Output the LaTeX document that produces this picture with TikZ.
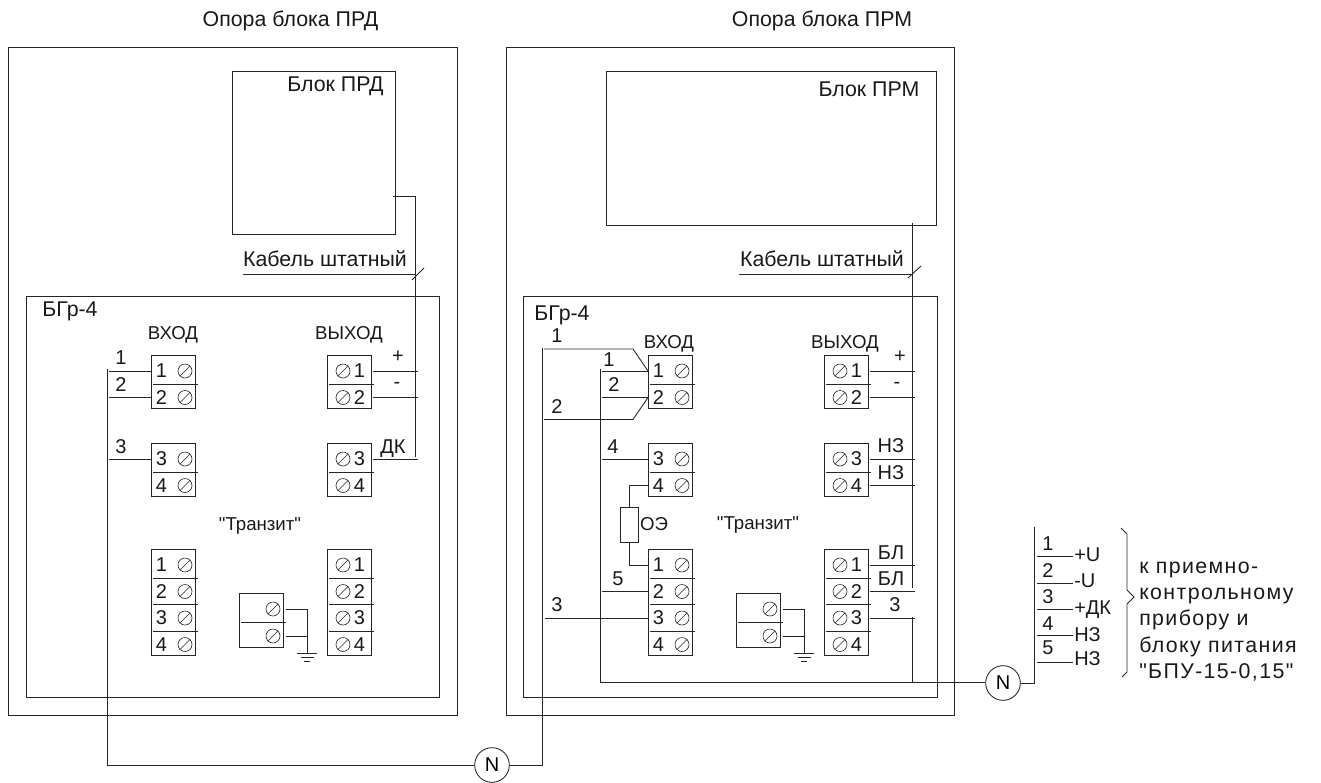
\documentclass[tikz,border=0pt]{standalone}
\usepackage{fontspec}
\setmainfont{Liberation Sans}[Ligatures=TeXOff]
\newcommand{\strip}[5]{% name, x, ytop, side (L/R), list of numbers
  \def\stripname{#1}\def\stripside{#4}
  \foreach \num [count=\i] in {#5}{\xdef\striprows{\i}}
  \pgfmathsetmacro{\striph}{26.5*\striprows}
  \node[blockbox,minimum width=44*0.75pt,minimum height=\striph*0.75pt,anchor=north west] (#1) at (#2,#3) {};
  \foreach \num [count=\i] in {#5}{
    \pgfmathsetmacro{\ry}{#3+16+26.5*(\i-1)}
    \pgfmathsetmacro{\dy}{\ry+13}
    \coordinate (#1-\i-w) at (#2,\ry);
    \coordinate (#1-\i-e) at (#2+46,\ry);
    \ifnum\i<\striprows\relax
      \draw[wire] (#2+2,\dy) -- (#2+47,\dy);
    \fi
    \if\stripside L
      \node[mid,anchor=center] (#1-\i-n) at (#2+10.5,\ry) {\num};
      \node[screwc] (#1-\i-s) at (#2+34,\ry) {};
    \else
      \node[mid,anchor=center] (#1-\i-n) at (#2+32.5,\ry) {\num};
      \node[screwc] (#1-\i-s) at (#2+16,\ry) {};
    \fi
    \draw[thin wire] (#1-\i-s.225) -- (#1-\i-s.45);
  }
}
\newcommand{\earth}[3]{% name, x, ytop
  \node[blockbox,minimum width=44*0.75pt,minimum height=54*0.75pt,anchor=north west] (#1) at (#2,#3) {};
  \draw[wire] (#2+2,#3+29) -- (#2+47,#3+29);
  \node[screwc] (#1-a) at (#2+34,#3+16) {};
  \node[screwc] (#1-b) at (#2+34,#3+43) {};
  \draw[thin wire] (#1-a.225) -- (#1-a.45);
  \draw[thin wire] (#1-b.225) -- (#1-b.45);
  \coordinate (#1-ae) at (#2+47,#3+16);
  \coordinate (#1-be) at (#2+47,#3+43);
  \coordinate (#1-ac) at (#2+68,#3+16);
  \coordinate (#1-bc) at (#2+68,#3+43);
  \coordinate (#1-g) at (#2+68,#3+60);
  \draw[wire] (#1-ae) -- (#1-ac) -- (#1-g);
  \draw[wire] (#1-be) -- (#1-bc);
  \draw[wire] ($(#1-g)+(-10,0)$) -- ($(#1-g)+(10,0)$);
  \draw[wire] ($(#1-g)+(-6.5,4)$) -- ($(#1-g)+(6.5,4)$);
  \draw[wire] ($(#1-g)+(-3,8)$) -- ($(#1-g)+(3,8)$);
}
\usetikzlibrary{calc}
\tikzset{
  x=0.75pt,y=-0.75pt,
  wire/.style={line width=0.65pt,black!85},
  thin wire/.style={line width=0.45pt,black!85},
  blockbox/.style={draw=black!85,line width=0.65pt,inner sep=0pt,fill=none},
  framebox/.style={draw=black!85,line width=0.65pt,inner sep=0pt,anchor=north west},
  screwc/.style={circle,draw=black!85,line width=0.45pt,minimum size=10.5pt,inner sep=0pt},
  lbl/.style={font=\fontsize{14}{16}\selectfont,inner sep=0pt,anchor=base,text=black!90},
  big/.style={lbl,font=\fontsize{16}{18}\selectfont},
  mid/.style={lbl,font=\fontsize{15}{17}\selectfont},
  wide/.style={lbl,anchor=base west,font=\fontsize{16}{18}\selectfont\addfontfeature{LetterSpace=6.5}},
  joint/.style={circle,draw=black!85,line width=0.65pt,minimum size=26pt,inner sep=0pt,font=\fontsize{15}{17}\selectfont},
}
\begin{document}
\begin{tikzpicture}
\useasboundingbox (0,0) rectangle (1321,782);
% frames
\node[framebox,minimum width=449*0.75pt,minimum height=668*0.75pt] (opL) at (8,47) {};
\node[framebox,minimum width=448*0.75pt,minimum height=668*0.75pt] (opR) at (506,47) {};
\node[framebox,minimum width=413*0.75pt,minimum height=401*0.75pt] (bgL) at (26,296) {};
\node[framebox,minimum width=414*0.75pt,minimum height=401*0.75pt] (bgR) at (523,296) {};
\node[framebox,minimum width=163*0.75pt,minimum height=163*0.75pt] (prd) at (232,71) {};
\node[framebox,minimum width=330*0.75pt,minimum height=154*0.75pt] (prm) at (606,71) {};
% titles
\node[big] (t1) at (290.5,26) {Опора блока ПРД};
\node[big] (t2) at (822,26) {Опора блока ПРМ};
\node[big] (t3) at (335.5,91) {Блок ПРД};
\node[big] (t4) at (869,96) {Блок ПРМ};
\node[big] (t5) at (325,266) {Кабель штатный};
\node[big] (t6) at (822,266) {Кабель штатный};
\node[big] (t7) at (70,316) {БГр-4};
\node[big] (t8) at (562,320) {БГр-4};
\node[lbl] (t9) at (173,339) {ВХОД};
\node[lbl] (t10) at (349,339) {ВЫХОД};
\node[lbl] (t11) at (669,348) {ВХОД};
\node[lbl] (t12) at (845,348) {ВЫХОД};
\node[lbl] (t13) at (260,530) {"Транзит"};
\node[lbl] (t14) at (758,529) {"Транзит"};
% strips left panel
\strip{La}{151}{355}{L}{1,2}
\strip{Lb}{151}{443}{L}{3,4}
\strip{Lc}{151}{549}{L}{1,2,3,4}
\strip{Ld}{327}{355}{R}{1,2}
\strip{Le}{327}{443}{R}{3,4}
\strip{Lf}{327}{549}{R}{1,2,3,4}
\earth{Lg}{239}{593}
% strips right panel
\strip{Ra}{648}{355}{L}{1,2}
\strip{Rb}{648}{443}{L}{3,4}
\strip{Rc}{648}{549}{L}{1,2,3,4}
\strip{Rd}{824}{355}{R}{1,2}
\strip{Re}{824}{443}{R}{3,4}
\strip{Rf}{824}{549}{R}{1,2,3,4}
\earth{Rg}{736}{593}
% junction nodes
\node[joint] (N1) at (492,765) {N};
\node[joint] (N2) at (1003,683) {N};
% left panel wiring
\coordinate (c1) at (107,369);
\coordinate (c2) at (107,765);
\coordinate (a1) at (109,371);
\coordinate (a2) at (109,397.5);
\coordinate (a3) at (109,459);
\draw[wire] (c1) -- (c2) -- (N1);
\draw[wire] (a1) -- (La-1-w);
\draw[wire] (a2) -- (La-2-w);
\draw[wire] (a3) -- (Lb-1-w);
\node[mid] (l1) at (121,364) {1};
\node[mid] (l2) at (121,391) {2};
\node[mid] (l3) at (121,453) {3};
\coordinate (d1) at (418,371);
\coordinate (d2) at (418,397.5);
\coordinate (d3) at (418,459);
\draw[wire] (Ld-1-e) -- (d1);
\draw[wire] (Ld-2-e) -- (d2);
\draw[wire] (Le-1-e) -- (d3);
\node[mid] (l4) at (398,362) {+};
\node[mid] (l5) at (397,388) {-};
\node[mid] (l6) at (393,453) {ДК};
\coordinate (w1) at (393,196);
\coordinate (w2) at (415,196);
\coordinate (w3) at (415,457);
\draw[wire] (w1) -- (w2) -- (w3);
\coordinate (k1) at (243,274);
\coordinate (k2) at (415,274);
\draw[wire] (k1) -- (k2);
\coordinate (sl1) at (412,280);
\coordinate (sl2) at (424,268);
\draw[wire] (sl1) -- (sl2);
% link between panels
\coordinate (c3) at (542,765);
\coordinate (c4) at (542,348);
\draw[wire] (N1) -- (c3) -- (c4);
% right panel wiring
\coordinate (e1) at (544,349);
\coordinate (e1b) at (633,349);
\coordinate (e2) at (544,419.5);
\coordinate (e2b) at (633,419.5);
\draw[wire] (e1) -- (e1b) -- (Ra-1-w);
\draw[wire] (e2) -- (e2b) -- (Ra-2-w);
\coordinate (f1) at (600,369);
\coordinate (f2) at (600,682);
\draw[wire] (f1) -- (f2) -- (N2.west |- f2);
\coordinate (g1) at (602,371);
\coordinate (g2) at (602,397.5);
\coordinate (g4) at (602,459);
\coordinate (g5) at (602,591.5);
\coordinate (g3) at (545,618);
\draw[wire] (g1) -- (Ra-1-w);
\draw[wire] (g2) -- (Ra-2-w);
\draw[wire] (g4) -- (Rb-1-w);
\draw[wire] (g5) -- (Rc-2-w);
\draw[wire] (g3) -- (Rc-3-w);
\node[mid] (m1) at (557,342) {1};
\node[mid] (m2) at (609,366) {1};
\node[mid] (m3) at (614,391) {2};
\node[mid] (m4) at (557,413) {2};
\node[mid] (m5) at (613,453) {4};
\node[mid] (m6) at (618,585) {5};
\node[mid] (m7) at (557,611) {3};
% OE resistor
\node[blockbox,minimum width=18*0.75pt,minimum height=35*0.75pt,anchor=north] (oe) at (629,507) {};
\node[lbl] (oet) at (654,530) {ОЭ};
\draw[wire] (Rb-2-w) -| (oe.north);
\draw[wire] (oe.south) |- (Rc-1-w);
% right side wires
\foreach \nm/\sn/\r in {h1/Rd/1,h2/Rd/2,h3/Re/1,h4/Re/2,h5/Rf/1,h6/Rf/2,h7/Rf/3}{
  \coordinate (\nm) at ($(\sn-\r-e)+(0,0)$);
}
\foreach \nm/\y in {i1/371,i2/397.5,i3/459,i4/485.5,i5/565,i6/591.5,i7/618}{
  \coordinate (\nm) at (915,\y);
}
\foreach \a/\b in {h1/i1,h2/i2,h3/i3,h4/i4,h5/i5,h6/i6,h7/i7}{
  \draw[wire] (\a) -- (\b);
}
\node[mid] (n1) at (900,362) {+};
\node[mid] (n2) at (897,388) {-};
\node[mid] (n3) at (891,452) {НЗ};
\node[mid] (n4) at (891,479) {НЗ};
\node[mid] (n5) at (891,559) {БЛ};
\node[mid] (n6) at (891,585) {БЛ};
\node[mid] (n7) at (895,611) {3};
\coordinate (v1) at (912,223);
\coordinate (v2) at (912,588);
\coordinate (v3) at (912,617);
\coordinate (v4) at (912,682);
\draw[wire] (v1) -- (v2);
\draw[wire] (v3) -- (v4);
\coordinate (k3) at (739,274);
\coordinate (k4) at (912,274);
\draw[wire] (k3) -- (k4);
\coordinate (sl3) at (908,278);
\coordinate (sl4) at (921,266);
\draw[wire] (sl3) -- (sl4);
% connector on the far right
\coordinate (q1) at (1034.5,683);
\coordinate (q2) at (1034.5,527);
\draw[wire] (N2) -- (q1) -- (q2);
\foreach \i/\y in {1/556,2/583,3/609,4/635,5/662}{
  \coordinate (qa\i) at (1037,\y);
  \coordinate (qb\i) at (1073,\y);
  \draw[wire] (qa\i) -- (qb\i);
}
\node[mid] (r1) at (1048,550) {1};
\node[mid] (r2) at (1048,577) {2};
\node[mid] (r3) at (1048,603) {3};
\node[mid] (r4) at (1048,630) {4};
\node[mid] (r5) at (1048,654) {5};
\node[mid,anchor=base west] (s1) at (1074,561) {+U};
\node[mid,anchor=base west] (s2) at (1074,587) {-U};
\node[mid,anchor=base west] (s3) at (1074,614) {+ДК};
\node[mid,anchor=base west] (s4) at (1074,641) {НЗ};
\node[mid,anchor=base west] (s5) at (1074,665) {НЗ};
\coordinate (br1) at (1121,528);
\coordinate (br2) at (1127,534);
\coordinate (br3) at (1127,590);
\coordinate (br4) at (1134,597);
\coordinate (br5) at (1127,604);
\coordinate (br6) at (1127,672);
\coordinate (br7) at (1122,677);
\draw[wire] (br1) -- (br2) -- (br3) -- (br4) -- (br5) -- (br6) -- (br7);
\node[wide] (x1) at (1139,573) {к приемно-};
\node[wide] (x2) at (1139,599) {контрольному};
\node[wide] (x3) at (1139,625) {прибору и};
\node[wide] (x4) at (1139,652) {блоку питания};
\node[wide] (x5) at (1139,678) {"БПУ-15-0,15"};
\end{tikzpicture}
\end{document}
